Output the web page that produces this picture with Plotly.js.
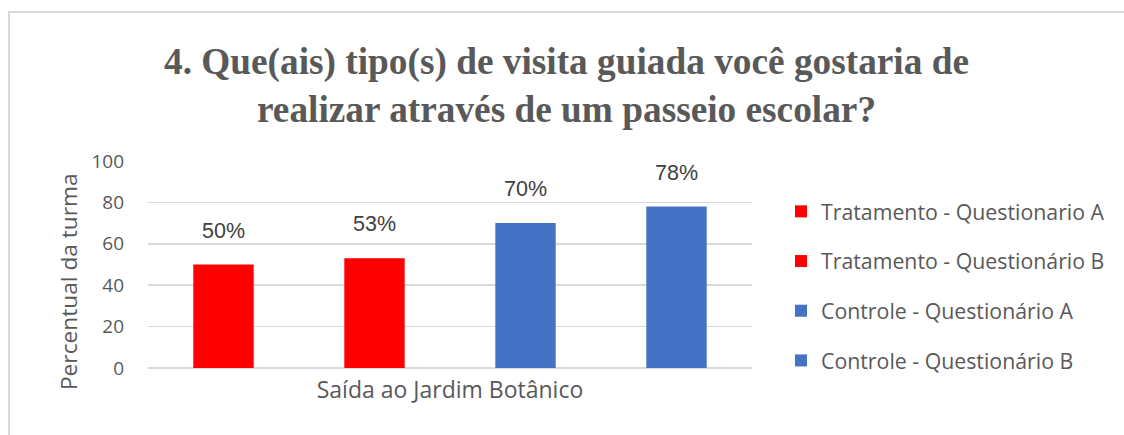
<!DOCTYPE html>
<html>
<head>
<meta charset="utf-8">
<script src="https://cdn.plot.ly/plotly-3.0.1.min.js"></script>
<style>
  html, body { margin: 0; padding: 0; background: #ffffff; }
  #wrap { position: relative; width: 1124px; height: 435px; overflow: hidden; }
  #chart { position: absolute; left: 0; top: 0; width: 1124px; height: 435px; }
  #frame { position: absolute; left: 8px; top: 11px; width: 1130px; height: 440px;
           border: 2px solid #d9d9d9; box-sizing: border-box; pointer-events: none; }
</style>
</head>
<body>
<div id="wrap">
  <div id="chart"></div>
  <div id="frame"></div>
</div>
<script>
// ---- Data ----
const categories = ["Saída ao Jardim Botânico"];
const seriesNames = [
  "Tratamento - Questionario A",
  "Tratamento - Questionário B",
  "Controle - Questionário A",
  "Controle - Questionário B"
];
const tratamentoA = [50];
const tratamentoB = [53];
const controleA = [70];
const controleB = [78];
const labelsTratamentoA = ["50%"];
const labelsTratamentoB = ["53%"];
const labelsControleA = ["70%"];
const labelsControleB = ["78%"];
const yTickVals = [0, 20, 40, 60, 80, 100];
const yTickText = ["0", "20", "40", "60", "80", "100"];
const yAxisTitle = "Percentual da turma";

const seriesValues = [tratamentoA, tratamentoB, controleA, controleB];
const seriesLabels = [labelsTratamentoA, labelsTratamentoB, labelsControleA, labelsControleB];
const seriesColors = ["#ff0000", "#ff0000", "#4472c4", "#4472c4"];

const W = 1124, H = 435;
const margin = { l: 148, r: 372, t: 161, b: 67, pad: 0, autoexpand: false };
const plotW = W - margin.l - margin.r;
const uiFont = "Open Sans, sans-serif";

const traces = seriesValues.map((vals, i) => ({
  type: "bar",
  name: seriesNames[i],
  x: categories,
  y: vals,
  marker: { color: seriesColors[i], line: { width: 0 } },
  legendgroup: "g" + i,
  hoverinfo: "skip"
}));

const annotations = [];
seriesValues.forEach((vals, i) => {
  vals.forEach((v, j) => {
    annotations.push({
      x: categories[j], y: v, xref: "x", yref: "y",
      text: seriesLabels[i][j],
      showarrow: false,
      xanchor: "center", yanchor: "bottom",
      xshift: (i - (seriesValues.length - 1) / 2) * plotW / seriesValues.length,
      yshift: 20,
      font: { family: "Liberation Sans, Arial, sans-serif", size: 21.5, color: "#404040" }
    });
  });
});
// y-axis title (placed as annotation so it can sit slightly low, like the reference)
annotations.push({
  text: yAxisTitle,
  xref: "paper", yref: "paper",
  x: -0.1325, y: 0.42,
  xanchor: "center", yanchor: "middle",
  textangle: -90,
  showarrow: false,
  font: { family: uiFont, size: 22.7, color: "#595959" }
});

const layout = {
  width: W, height: H,
  margin: margin,
  paper_bgcolor: "#ffffff",
  plot_bgcolor: "#ffffff",
  barmode: "group",
  bargap: 0,
  bargroupgap: 0.6,
  title: {
    text: "4. Que(ais) tipo(s) de visita guiada você gostaria de<br>realizar através de um passeio escolar?",
    font: { family: "Liberation Serif, Times New Roman, serif", size: 37.3, color: "#595959", weight: "bold" },
    x: 0.504, xanchor: "center", xref: "container",
    y: 0.83, yanchor: "middle", yref: "container"
  },
  xaxis: {
    type: "category",
    showgrid: false, zeroline: false, showline: false,
    ticks: "",
    ticklabelstandoff: 6,
    tickfont: { family: uiFont, size: 23, color: "#595959" },
    fixedrange: true
  },
  yaxis: {
    range: [0, 100],
    tickvals: yTickVals,
    ticktext: yTickText,
    showgrid: true, gridcolor: "#d9d9d9", gridwidth: 1.5,
    zeroline: true, zerolinecolor: "#d9d9d9", zerolinewidth: 1.5,
    showline: false, ticks: "",
    ticklabelstandoff: 23,
    tickfont: { family: uiFont, size: 19, color: "#595959" },
    fixedrange: true
  },
  showlegend: true,
  legend: {
    x: 1.048, xanchor: "left", xref: "paper",
    y: 0.855, yanchor: "top",
    font: { family: uiFont, size: 21.3, color: "#595959" },
    tracegroupgap: 19,
    bgcolor: "rgba(0,0,0,0)"
  },
  annotations: annotations
};

Plotly.newPlot("chart", traces, layout, { displayModeBar: false, staticPlot: true });
</script>
</body>
</html>
